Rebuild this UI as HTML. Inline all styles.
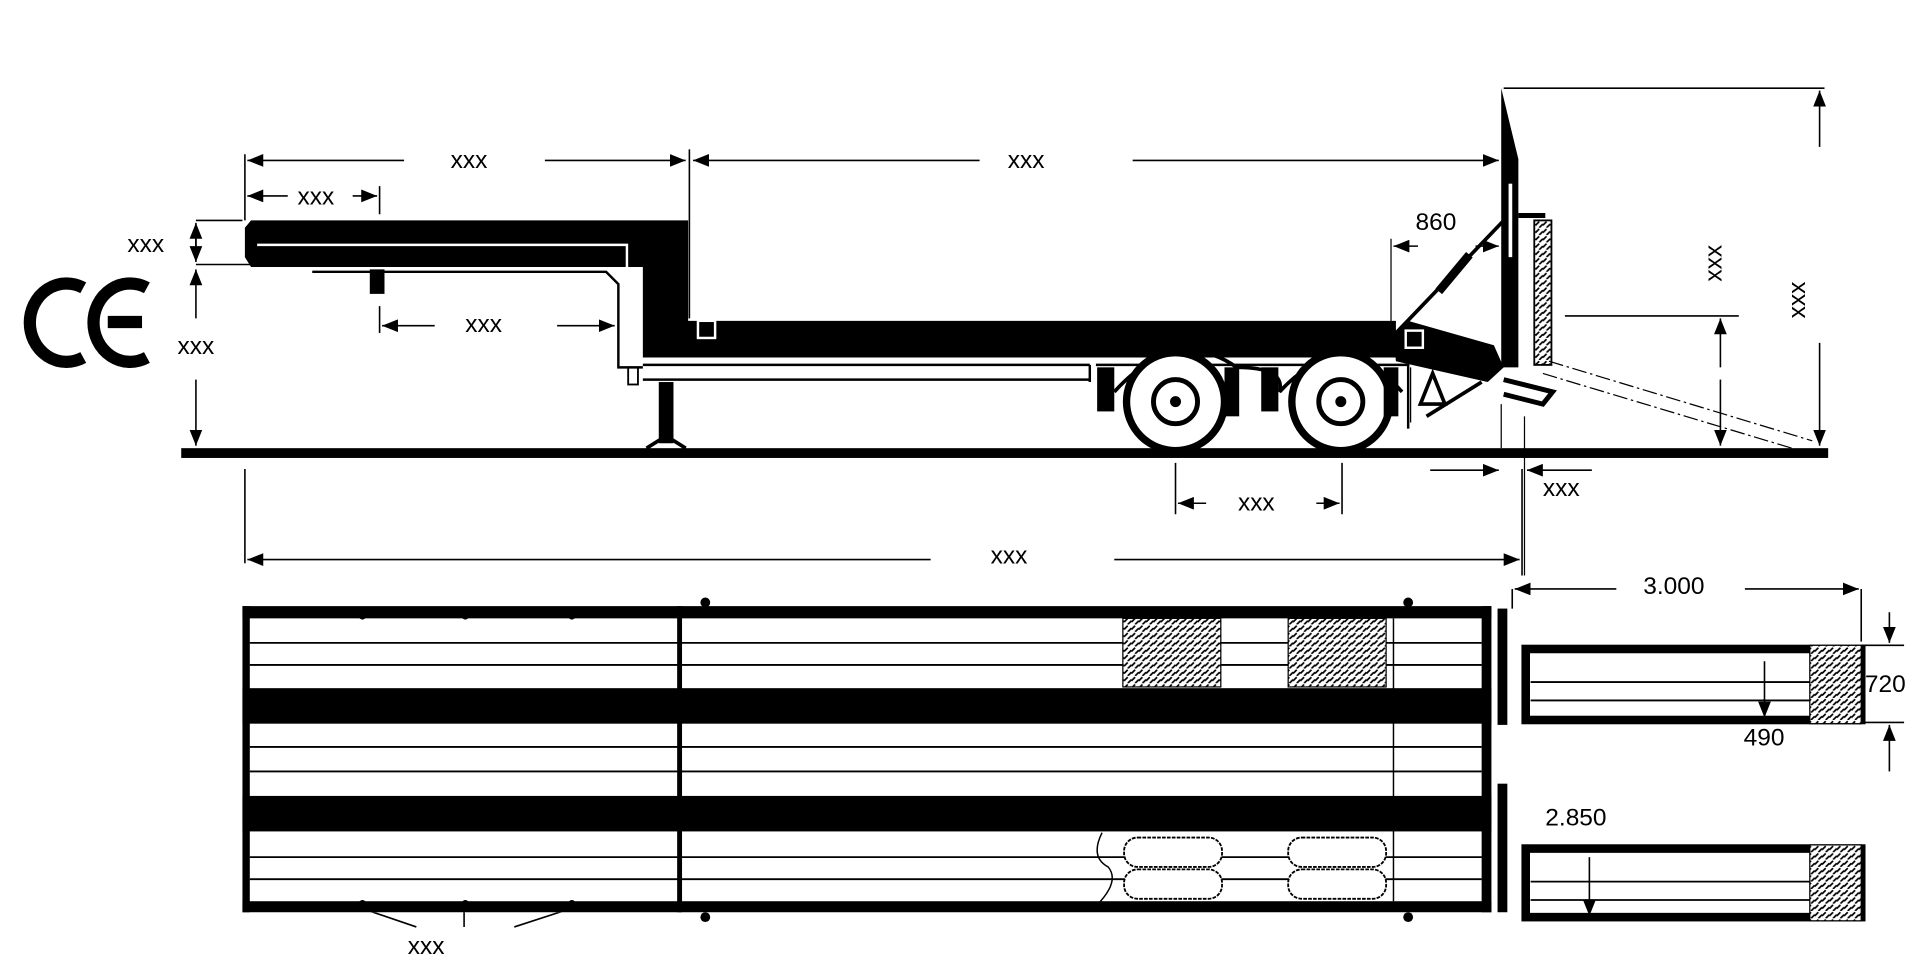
<!DOCTYPE html>
<html><head><meta charset="utf-8"><style>
html,body{margin:0;padding:0;background:#fff;width:1920px;height:960px;overflow:hidden}
svg{display:block}
text{font-family:"Liberation Sans",Arial,sans-serif;fill:#000}
</style></head><body>
<svg width="1920" height="960" viewBox="0 0 1568 784" xmlns="http://www.w3.org/2000/svg">
<defs>
<pattern id="h" width="6" height="6" patternUnits="userSpaceOnUse">
<rect width="6" height="6" fill="#fff"/>
<path d="M0 4 L3 1 M3 6 L6 3" stroke="#000" stroke-width="1.4"/>
</pattern>
<marker id="a" markerWidth="10" markerHeight="8" refX="10" refY="4" orient="auto"><path d="M0 0 L10 4 L0 8 Z" fill="#000"/></marker>
</defs>
<g stroke="#000" fill="none">
<!-- CE -->
<path d="M68 235 A30 32 0 1 0 68 292" stroke-width="10"/>
<path d="M120 235 A30 32 0 1 0 120 292 M88 263 L116 263" stroke-width="10"/>
<!-- ground -->
<rect x="148" y="366" width="1345" height="8" fill="#000" stroke="none"/>
<!-- gooseneck -->
<path d="M205 180 L562 180 L562 262 L1140 262 L1140 292 L525 292 L525 218 L205 218 L200 210 L200 186 Z" fill="#000" stroke="none"/>
<path d="M210 200 L512 200 L512 288" stroke="#fff" stroke-width="2"/>
<path d="M255 222 L495 222 L505 232 L505 300 L525 300" stroke-width="2"/>
<rect x="513" y="300" width="8" height="14" stroke-width="1.5"/>
<rect x="302" y="220" width="12" height="20" fill="#000" stroke="none"/>
<path d="M525 298 L890 298 M525 310 L890 310 M890 298 L890 312" stroke-width="2"/>
<rect x="538" y="312" width="12" height="50" fill="#000" stroke="none"/>
<path d="M528 366 L544 356 L560 366" stroke-width="3"/>
<rect x="570" y="262" width="14" height="14" stroke="#fff" stroke-width="2"/>
<!-- wheels -->
<path d="M895 298 L1150 298 L1150 350" stroke-width="2"/>
<path d="M910 320 Q960 265 1010 300 Q1050 300 1045 320 Q1095 265 1145 320" stroke-width="3"/>
<rect x="896" y="300" width="14" height="36" fill="#000" stroke="none"/>
<rect x="1030" y="300" width="14" height="36" fill="#000" stroke="none"/>
<circle cx="960" cy="328" r="40" stroke-width="6" fill="#fff"/>
<circle cx="960" cy="328" r="18" stroke-width="4"/>
<circle cx="960" cy="328" r="4" fill="#000"/>
<circle cx="1095" cy="328" r="40" stroke-width="6" fill="#fff"/>
<circle cx="1095" cy="328" r="18" stroke-width="4"/>
<circle cx="1095" cy="328" r="4" fill="#000"/>
<rect x="1000" y="300" width="12" height="40" fill="#000" stroke="none"/>
<rect x="1130" y="300" width="12" height="40" fill="#000" stroke="none"/>
<!-- rear ramp assembly -->
<path d="M1138 272 L1150 262 L1220 282 L1228 300 L1215 312 L1140 295 Z" fill="#000" stroke="none"/>
<rect x="1148" y="270" width="14" height="14" stroke="#fff" stroke-width="2"/>
<path d="M1226 72 L1240 130 L1240 300 L1226 300 Z" fill="#000" stroke="none"/>
<rect x="1232" y="150" width="3" height="60" fill="#fff" stroke="none"/>
<path d="M1140 272 L1230 178" stroke-width="3"/>
<path d="M1175 238 L1200 208" stroke-width="7"/>
<rect x="1253" y="180" width="14" height="118" fill="url(#h)" stroke-width="1.5"/>
<path d="M1240 176 L1262 176 M1228 310 L1268 320 L1260 330 L1228 322" stroke-width="4"/>
<path d="M1160 330 L1170 305 L1180 330 Z M1165 340 L1210 312" stroke-width="3"/>
<path d="M1265 295 L1480 360 M1260 305 L1470 368" stroke-width="1" stroke-dasharray="12 3 2 3"/>
<path d="M1226 330 L1226 366 M1245 340 L1245 470 M1152 300 L1152 345 M1136 195 L1136 270" stroke-width="1"/>
<!-- dimension lines top -->
<g stroke-width="1.3">
<path d="M200 126 L200 180 M563 122 L563 260 M1228 72 L1490 72 M160 180 L198 180 M160 216 L205 216 M310 152 L310 175 M310 250 L310 272 M1278 258 L1420 258 M200 383 L200 460 M1243 383 L1243 470 M960 378 L960 420 M1096 378 L1096 420"/>
<path d="M330 131 L202 131" marker-end="url(#a)"/>
<path d="M445 131 L560 131" marker-end="url(#a)"/>
<path d="M800 131 L566 131" marker-end="url(#a)"/>
<path d="M925 131 L1224 131" marker-end="url(#a)"/>
<path d="M235 160 L202 160" marker-end="url(#a)"/>
<path d="M288 160 L308 160" marker-end="url(#a)"/>
<path d="M160 205 L160 182" marker-end="url(#a)"/>
<path d="M160 195 L160 214" marker-end="url(#a)"/>
<path d="M160 260 L160 220" marker-end="url(#a)"/>
<path d="M160 310 L160 364" marker-end="url(#a)"/>
<path d="M355 266 L312 266" marker-end="url(#a)"/>
<path d="M455 266 L502 266" marker-end="url(#a)"/>
<path d="M1158 201 L1138 201" marker-end="url(#a)"/>
<path d="M1205 201 L1224 201" marker-end="url(#a)"/>
<path d="M1486 120 L1486 74" marker-end="url(#a)"/>
<path d="M1486 280 L1486 364" marker-end="url(#a)"/>
<path d="M1405 300 L1405 260" marker-end="url(#a)"/>
<path d="M1405 310 L1405 364" marker-end="url(#a)"/>
<path d="M1168 384 L1224 384" marker-end="url(#a)"/>
<path d="M1300 384 L1247 384" marker-end="url(#a)"/>
<path d="M985 411 L962 411" marker-end="url(#a)"/>
<path d="M1075 411 L1094 411" marker-end="url(#a)"/>
<path d="M760 457 L202 457" marker-end="url(#a)"/>
<path d="M910 457 L1241 457" marker-end="url(#a)"/>
<path d="M1320 481 L1237 481" marker-end="url(#a)"/>
<path d="M1425 481 L1518 481" marker-end="url(#a)"/>
<path d="M1520 481 L1520 524 M1235 481 L1235 497 M1520 527 L1555 527 M1520 590 L1555 590"/>
<path d="M1543 500 L1543 525" marker-end="url(#a)"/>
<path d="M1543 630 L1543 592" marker-end="url(#a)"/>
<path d="M340 757 L296 742 M379 757 L379 742 M420 757 L466 742"/>
</g>
</g>
<!-- plan view -->
<g>
<rect x="198" y="495" width="1020" height="250" fill="#fff"/>
<rect x="198" y="495" width="1020" height="10" fill="#000"/>
<rect x="198" y="736" width="1020" height="9" fill="#000"/>
<rect x="198" y="495" width="6" height="250" fill="#000"/>
<rect x="1210" y="495" width="8" height="250" fill="#000"/>
<rect x="198" y="562" width="1020" height="29" fill="#000"/>
<rect x="198" y="650" width="1020" height="29" fill="#000"/>
<g stroke="#000" stroke-width="1.5">
<path d="M204 525 L1210 525 M204 543 L1210 543 M204 610 L1210 610 M204 630 L1210 630 M204 700 L1210 700 M204 718 L1210 718"/>
<path d="M1138 505 L1138 736" stroke-width="1.2"/>
</g>
<rect x="553" y="495" width="4" height="250" fill="#000"/>
<rect x="917" y="505" width="80" height="56" fill="url(#h)" stroke="#000" stroke-width="1"/>
<rect x="1052" y="505" width="80" height="56" fill="url(#h)" stroke="#000" stroke-width="1"/>
<g fill="#fff" stroke="#000" stroke-width="1.5" stroke-dasharray="3 1">
<rect x="918" y="684" width="80" height="24" rx="11"/>
<rect x="918" y="710" width="80" height="24" rx="11"/>
<rect x="1052" y="684" width="80" height="24" rx="11"/>
<rect x="1052" y="710" width="80" height="24" rx="11"/>
</g>
<path d="M900 680 Q890 700 905 708 Q915 720 895 740" stroke="#000" fill="none" stroke-width="1.2"/>
<g fill="#000">
<circle cx="576" cy="492" r="4"/><circle cx="1150" cy="492" r="4"/>
<circle cx="576" cy="749" r="4"/><circle cx="1150" cy="749" r="4"/>
<circle cx="296" cy="503" r="3"/><circle cx="380" cy="503" r="3"/><circle cx="467" cy="503" r="3"/>
<circle cx="296" cy="738" r="3"/><circle cx="380" cy="738" r="3"/><circle cx="467" cy="738" r="3"/>
<rect x="1223" y="497" width="8" height="95"/>
<rect x="1223" y="640" width="8" height="105"/>
</g>
<!-- ramps -->
<rect x="1246" y="530" width="274" height="58" fill="#fff" stroke="#000" stroke-width="7"/>
<rect x="1478" y="527" width="42" height="64" fill="url(#h)" stroke="#000" stroke-width="1"/>
<path d="M1250 557 L1478 557 M1250 572 L1478 572" stroke="#000" stroke-width="1.5"/>
<rect x="1246" y="693" width="274" height="56" fill="#fff" stroke="#000" stroke-width="7"/>
<rect x="1478" y="690" width="42" height="62" fill="url(#h)" stroke="#000" stroke-width="1"/>
<path d="M1250 720 L1478 720 M1250 735 L1478 735" stroke="#000" stroke-width="1.5"/>
<g stroke="#000" stroke-width="1.3">
<path d="M1441 540 L1441 586" marker-end="url(#a)"/>
<path d="M1298 700 L1298 748" marker-end="url(#a)"/>
</g>
</g>
<!-- labels -->
<g font-size="20">
<text x="368" y="137">xxx</text>
<text x="823" y="137">xxx</text>
<text x="243" y="167">xxx</text>
<text x="104" y="206">xxx</text>
<text x="145" y="289">xxx</text>
<text x="380" y="271">xxx</text>
<text x="1156" y="188">860</text>
<text x="1011" y="417">xxx</text>
<text x="1260" y="405">xxx</text>
<text x="809" y="460">xxx</text>
<text x="1342" y="485">3.000</text>
<text x="1523" y="565">720</text>
<text x="1424" y="609">490</text>
<text x="1262" y="674">2.850</text>
<text x="333" y="779">xxx</text>
<text transform="translate(1406,230) rotate(-90)">xxx</text>
<text transform="translate(1474,260) rotate(-90)">xxx</text>
</g>
</svg>
</body></html>
